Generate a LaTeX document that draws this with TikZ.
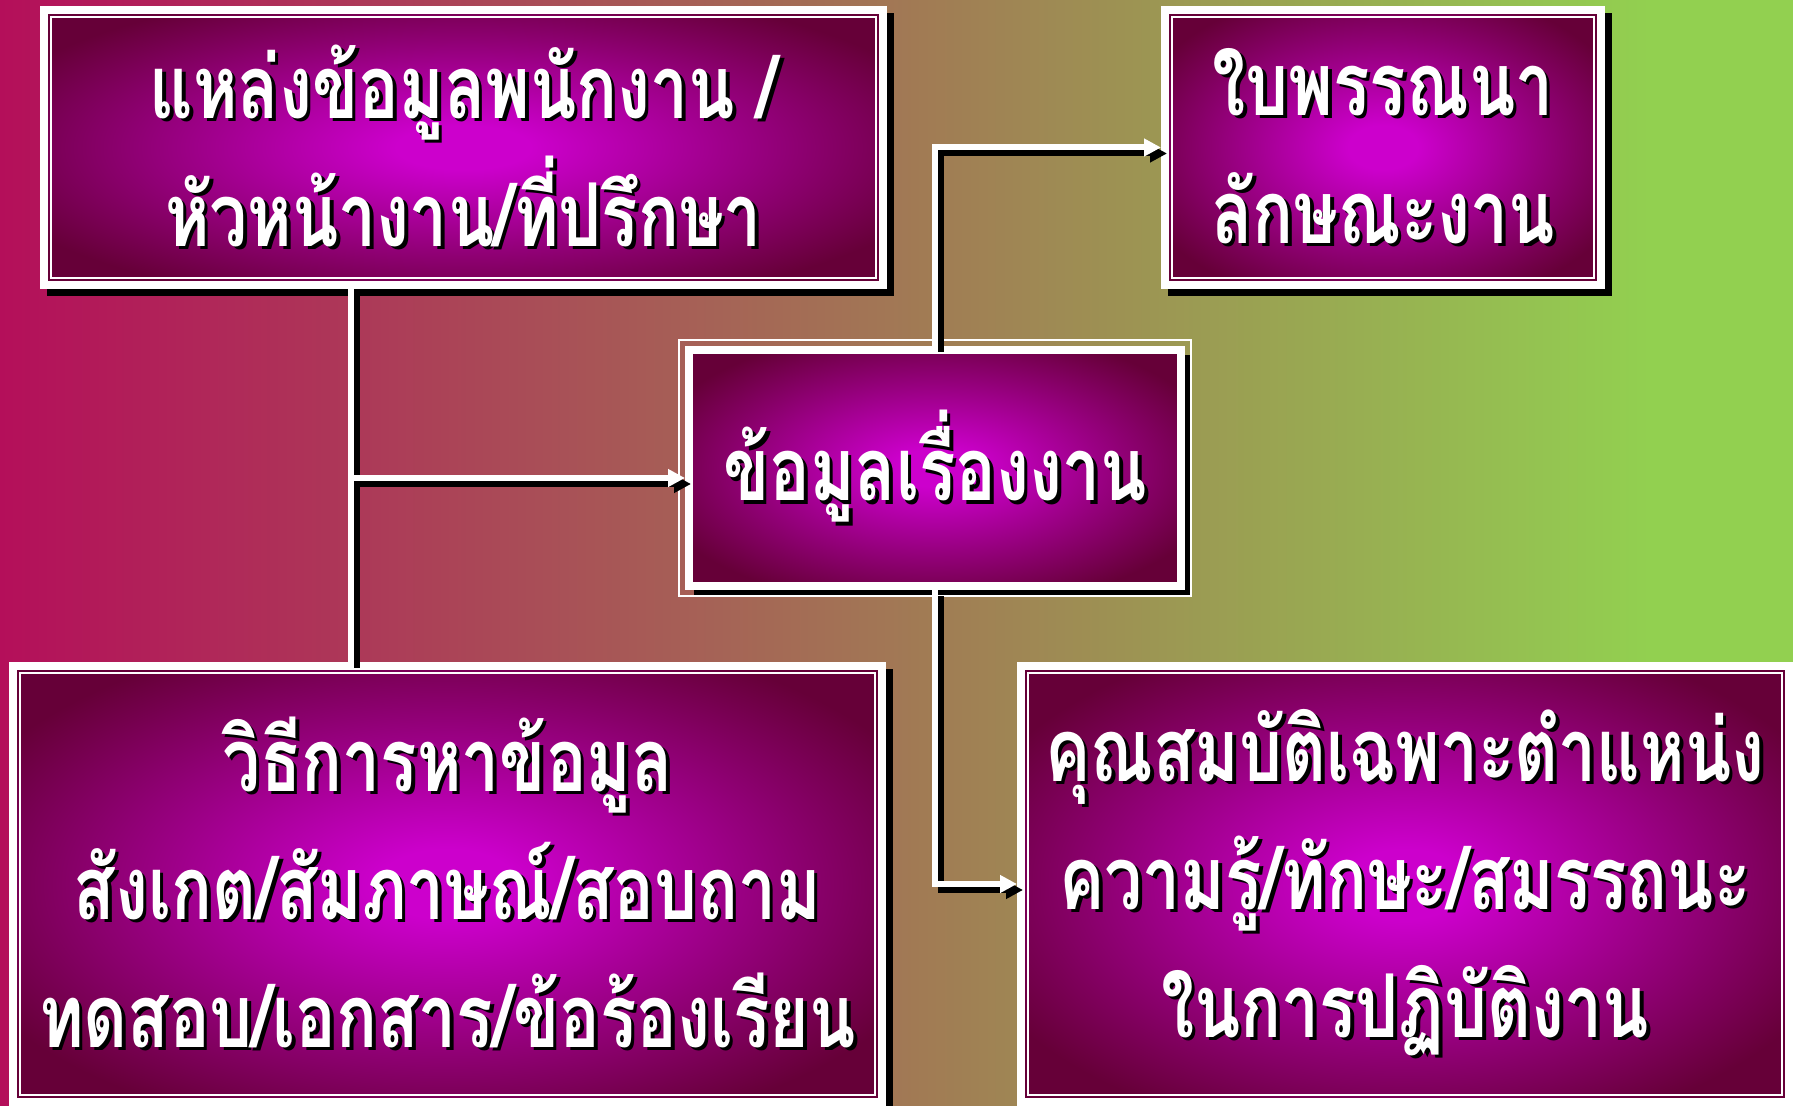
\documentclass[tikz,border=0pt]{standalone}
\usepackage{fontspec}
\newfontfamily\thaifont[Script=Thai,FakeStretch=0.77]{Loma}
\usetikzlibrary{arrows.meta,shadows}
\definecolor{bgl}{HTML}{B40F5A}
\definecolor{bgr}{HTML}{92D050}
\definecolor{glowc}{HTML}{CC00CC}
\definecolor{darkc}{HTML}{660038}
\pgfdeclarehorizontalshading{bggrad}{100bp}{color(0bp)=(bgl); color(25bp)=(bgl); color(71bp)=(bgr); color(100bp)=(bgr)}
\pgfdeclareradialshading{boxglow}{\pgfpoint{0bp}{0bp}}{color(0bp)=(glowc); color(4bp)=(glowc); color(30bp)=(darkc); color(50bp)=(darkc)}
\newcommand\tl[1]{\leavevmode\rlap{\kern1.8pt\raisebox{-1.8pt}{\color{black}#1}}{\color{white}#1}}
\begin{document}
\begin{tikzpicture}[x=0.5pt,y=-0.5pt,
  boxbase/.style={shade, shading=boxglow, draw=white, line width=4pt, inner sep=0pt,
     align=center, text=white, font=\thaifont\bfseries\fontsize{44}{64}\selectfont},
  box/.style={boxbase,
     general shadow={shadow xshift=3.5pt, shadow yshift=-3.5pt, fill=black, draw=black, line width=4pt},
     path picture={\draw[white, line width=0.9pt] ([shift={(3.6pt,-3.6pt)}]path picture bounding box.north west) rectangle ([shift={(-3.6pt,3.6pt)}]path picture bounding box.south east);}},
  centerbox/.style={boxbase,
     general shadow={shadow xshift=4pt, shadow yshift=-4pt, fill=black, draw=black, line width=3pt}},
  conn/.style={white, line width=3pt},
  connshadow/.style={black, line width=3pt, transform canvas={shift={(3pt,-3pt)}}},
  arrowhd/.style={-{Triangle[length=8.5pt,width=8.5pt]}}
]
\useasboundingbox (0,0) rectangle (1793,1106);
\shade[shading=bggrad] (0,0) rectangle (1793,1106);

\node[box, minimum width=419.5pt, minimum height=137.5pt] (b1) at (463.5,147.5)
  {\tl{แหล่งข้อมูลพนักงาน /}\\\tl{หัวหน้างาน/ที่ปรึกษา}};
\node[box, minimum width=218pt, minimum height=137.5pt] (b2) at (1383,147.5)
  {\tl{ใบพรรณนา}\\\tl{ลักษณะงาน}};
\node[centerbox, minimum width=246pt, minimum height=118pt] (b3) at (935,468)
  {\tl{ข้อมูลเรื่องงาน}};
\draw[white, line width=0.8pt] ([shift={(-3pt,3pt)}]b3.north west) rectangle ([shift={(3pt,-3pt)}]b3.south east);
\node[box, minimum width=434.5pt, minimum height=218pt] (b4) at (447.5,884)
  {\tl{วิธีการหาข้อมูล}\\\tl{สังเกต/สัมภาษณ์/สอบถาม}\\\tl{ทดสอบ/เอกสาร/ข้อร้องเรียน}};
\node[box, minimum width=384pt, minimum height=218pt] (b5) at (1405,884)
  {\tl{คุณสมบัติเฉพาะตำแหน่ง}\\\tl{ความรู้/ทักษะ/สมรรถนะ}\\\tl{ในการปฏิบัติงาน}};

\coordinate (jx) at (350.5,0);
\coordinate (jy) at (0,478);

\foreach \st in {connshadow,conn}{
  \draw[\st] (b1.south -| jx) -- (b4.north -| jx);
  \draw[\st,arrowhd] (jx |- jy) -- (b3.west |- jy);
  \draw[\st,arrowhd] (b3.north) |- (b2.west);
  \draw[\st,arrowhd] (b3.south) |- (b5.west);
}
\end{tikzpicture}
\end{document}
